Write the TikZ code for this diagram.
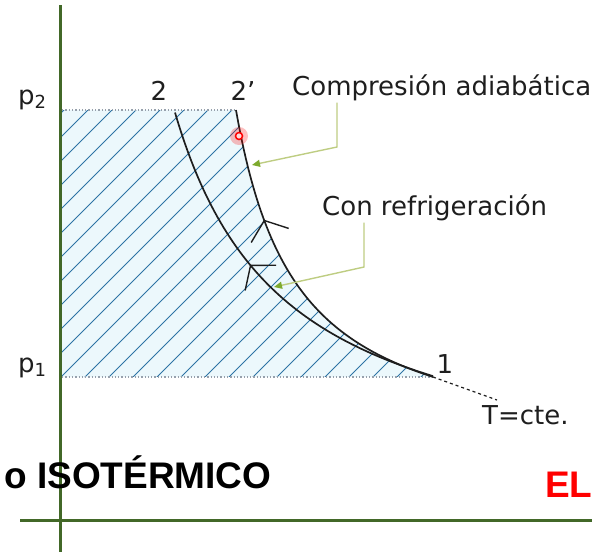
\documentclass[tikz,border=0pt]{standalone}
\usepackage{fontspec}
\setmainfont{DejaVu Sans}
\newfontfamily\titlefont{Liberation Sans}
\usepackage{tikz}
\usetikzlibrary{arrows.meta,positioning,decorations.markings}
\usepackage{xcolor}
\definecolor{axgreen}{RGB}{66,104,40}
\definecolor{hatchblue}{RGB}{45,115,165}
\definecolor{hatchtint}{RGB}{236,248,252}
\definecolor{dotgray}{RGB}{150,160,172}
\definecolor{leadgreen}{RGB}{190,205,130}
\definecolor{tipgreen}{RGB}{125,170,45}
\definecolor{inkgray}{RGB}{30,30,30}
\tikzstyle{axis} = [line width=3pt, color=axgreen]
\tikzstyle{isoline} = [line width=1.7pt, color=inkgray]
\tikzstyle{hatchline} = [line width=1pt, color=hatchblue]
\tikzstyle{dotline} = [line width=1.3pt, dotted, color=dotgray]
\tikzstyle{leader} = [line width=1.4pt, color=leadgreen, -{Triangle[length=8pt,width=7pt,color=tipgreen]}]
\tikzstyle{tag} = [font=\fontsize{26}{30}\selectfont, text=inkgray, inner sep=2pt]
\tikzstyle{title} = [font=\titlefont\bfseries\fontsize{37}{40}\selectfont, inner sep=0pt]
\tikzset{flowmark/.style={postaction={decorate}, decoration={markings,
  mark=at position #1 with {\arrow[line width=1.4pt]{Straight Barb[length=16pt,width=40pt]}}}}}

\begin{document}
\begin{tikzpicture}[x=1pt, y=-1pt]
\useasboundingbox (0,0) rectangle (592,552);

% State points
\coordinate (pt1) at (433,377);
\coordinate (pt2) at (175,112);
\coordinate (pt2p) at (236,110);
\coordinate (axp2) at (62,110);
\coordinate (axp1) at (62,377);
\coordinate (tend) at (497,400);

% Work area
\begin{scope}
\clip (axp2) -- plot[domain=236:433, samples=60] (\x, {460-214.5/((\x-174.7)/100)}) -- (axp1) -- cycle;
\fill[hatchtint] (0,0) rectangle (592,552);
\foreach \a in {-322,-298,...,460}
  \draw[hatchline] (\a,400) -- ++(400,-400);
\end{scope}
\draw[dotline] (axp2) -- (pt2p);
\draw[dotline] (axp1) -- (pt1);

% Axes
\draw[axis] (60,5) -- (60,552);
\draw[axis] (20,520) -- (592,520);

% Compression paths
\draw[isoline, flowmark=0.56] plot[domain=433:175, samples=80] (\x, {489-416/((\x-64.5)/100)});
\draw[isoline, flowmark=0.68] plot[domain=433:236, samples=80] (\x, {460-214.5/((\x-174.7)/100)});
\draw[dashed, line width=1.2pt, color=inkgray] (pt1) -- (tend);

% Marked point
\coordinate (dot) at (239,136);
\fill[red, opacity=0.25] (dot) circle (9);
\draw[red, line width=1.5pt, fill=red!15] (dot) circle (3.5);

% Labels
\node (lp2) [tag, anchor=base west] at (16,104) {p\raisebox{-4pt}{\fontsize{18}{18}\selectfont 2}};
\node (lp1) [tag, anchor=base west] at (16,372) {p\raisebox{-4pt}{\fontsize{18}{18}\selectfont 1}};
\node (l2) [tag, anchor=base] at (159,100) {2};
\node (l2p) [tag, anchor=base] at (243,100) {2’};
\node (l1) [tag, anchor=base] at (445,373) {1};
\node (ltc) [tag, anchor=base west] at (480,424) {T=cte.};
\node (adiab) [tag, anchor=base west] at (290,95) {Compresión adiabática};
\node (refri) [tag, anchor=base west] at (320,215) {Con refrigeración};

% Leaders
\coordinate (kneeA) at (337,147);
\coordinate (tipA) at (252,165);
\coordinate (kneeB) at (364,267);
\coordinate (tipB) at (274,287);
\draw[leader] (adiab.south -| kneeA) -- (kneeA) -- (tipA);
\draw[leader] (refri.south -| kneeB) -- (kneeB) -- (tipB);

% Slide text
\node (iso) [title, anchor=base west] at (4,488) {o ISOTÉRMICO};
\node (el) [title, text=red, anchor=base west] at (545,497) {EL};
\end{tikzpicture}
\end{document}
